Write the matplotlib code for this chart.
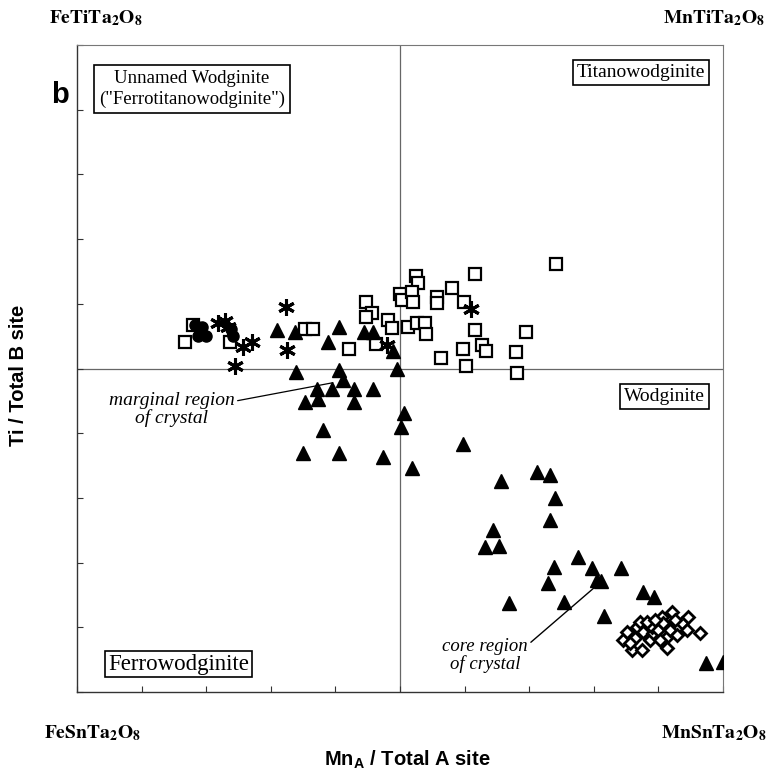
import matplotlib
matplotlib.use("Agg")
import matplotlib.pyplot as plt
import numpy as np

plt.rcParams['mathtext.fontset'] = 'custom'
plt.rcParams['mathtext.rm'] = 'Liberation Sans:bold'
plt.rcParams['mathtext.bf'] = 'Liberation Sans:bold'

# ---- data (Mn_A/total A , Ti/total B) ----
tri_x = [0.310, 0.337, 0.406, 0.389, 0.444, 0.458, 0.489, 0.339, 0.406, 0.495,
         0.412, 0.372, 0.395, 0.429, 0.458, 0.353, 0.373, 0.429, 0.381, 0.350,
         0.406, 0.474, 0.506, 0.502, 0.519, 0.598, 0.656, 0.712, 0.732, 0.740,
         0.732, 0.644, 0.632, 0.653, 0.776, 0.738, 0.797, 0.842, 0.729, 0.805,
         0.811, 0.669, 0.754, 0.876, 0.893, 0.816, 0.974, 1.000]
tri_y = [0.560, 0.556, 0.564, 0.541, 0.556, 0.556, 0.527, 0.495, 0.498, 0.499,
         0.482, 0.468, 0.468, 0.468, 0.468, 0.448, 0.453, 0.448, 0.405, 0.369,
         0.369, 0.363, 0.431, 0.410, 0.346, 0.383, 0.326, 0.340, 0.335, 0.300,
         0.266, 0.250, 0.224, 0.226, 0.209, 0.193, 0.192, 0.192, 0.168, 0.173,
         0.172, 0.138, 0.139, 0.155, 0.147, 0.117, 0.045, 0.046]

sq_x = [0.180, 0.167, 0.237, 0.353, 0.365, 0.421, 0.447, 0.457, 0.447, 0.463,
        0.481, 0.488, 0.500, 0.503, 0.525, 0.528, 0.519, 0.520, 0.512, 0.526,
        0.539, 0.540, 0.557, 0.557, 0.580, 0.599, 0.616, 0.616, 0.627, 0.633,
        0.598, 0.563, 0.602, 0.695, 0.680, 0.681, 0.741]
sq_y = [0.567, 0.541, 0.541, 0.561, 0.561, 0.530, 0.603, 0.586, 0.580, 0.538,
        0.575, 0.563, 0.615, 0.606, 0.643, 0.632, 0.618, 0.603, 0.564, 0.570,
        0.570, 0.553, 0.611, 0.601, 0.624, 0.603, 0.646, 0.560, 0.536, 0.527,
        0.530, 0.516, 0.504, 0.556, 0.525, 0.493, 0.662]

ast_x = [0.218, 0.229, 0.234, 0.257, 0.271, 0.245, 0.324, 0.325, 0.480, 0.610]
ast_y = [0.570, 0.573, 0.564, 0.533, 0.541, 0.504, 0.595, 0.529, 0.536, 0.592]

cir_x = [0.183, 0.193, 0.187, 0.200, 0.238, 0.241]
cir_y = [0.567, 0.564, 0.550, 0.550, 0.561, 0.550]

dia_x = [0.845, 0.859, 0.875, 0.864, 0.851, 0.867, 0.872, 0.876, 0.887, 0.892,
         0.890, 0.899, 0.906, 0.907, 0.913, 0.921, 0.918, 0.929, 0.913, 0.937,
         0.946, 0.944, 0.964, 0.882, 0.895, 0.856, 0.902, 0.926]
dia_y = [0.080, 0.065, 0.065, 0.083, 0.093, 0.100, 0.108, 0.093, 0.080, 0.091,
         0.100, 0.096, 0.116, 0.107, 0.085, 0.124, 0.096, 0.088, 0.068, 0.107,
         0.116, 0.096, 0.091, 0.108, 0.111, 0.076, 0.080, 0.111]

W, H = 772, 775
fig = plt.figure(figsize=(W / 100, H / 100), dpi=100)
ax = fig.add_axes([77 / W, 1 - 692 / H, (723 - 77) / W, (692 - 45) / H])
ax.set_xlim(0, 1)
ax.set_ylim(0, 1)

ticks = np.round(np.arange(0, 1.01, 0.1), 2)
ax.set_xticks(ticks)
ax.set_yticks(ticks)
ax.set_xticklabels([])
ax.set_yticklabels([])
ax.tick_params(direction='in', length=4, width=0.8, color='#333333')
for s in ['left', 'bottom']:
    ax.spines[s].set_linewidth(1.0)
    ax.spines[s].set_color('#333333')
for s in ['top', 'right']:
    ax.spines[s].set_linewidth(0.8)
    ax.spines[s].set_color('#777777')

ax.axvline(0.5, color='#666666', lw=0.9, zorder=1)
ax.axhline(0.5, color='#666666', lw=0.9, zorder=1)

ax.plot(sq_x, sq_y, ls='none', marker='s', ms=8.5, mfc='white', mec='black', mew=1.6, zorder=3)
ax.plot(cir_x, cir_y, ls='none', marker='o', ms=8, mfc='black', mec='black', zorder=4)
ax.plot(ast_x, ast_y, ls='none', marker=(6, 2, 0), ms=12, mec='black', mew=2.2, zorder=4)
ax.plot(tri_x, tri_y, ls='none', marker='^', ms=10, mfc='black', mec='black', zorder=5)
ax.plot(dia_x, dia_y, ls='none', marker='D', ms=6.5, mfc='white', mec='black', mew=2.0, zorder=5)

serif = 'Liberation Serif'
def box(pad):
    return dict(boxstyle='square,pad=%s' % pad, fc='white', ec='black', lw=1.2)

ax.text(0.178, 0.932, 'Unnamed Wodginite\n("Ferrotitanowodginite")', ha='center', va='center',
        fontsize=13.5, family=serif, bbox=box(0.25), linespacing=1.3, zorder=6)
ax.text(0.972, 0.958, 'Titanowodginite', ha='right', va='center',
        fontsize=14, family=serif, bbox=box(0.2), zorder=6)
ax.text(0.972, 0.457, 'Wodginite', ha='right', va='center',
        fontsize=14, family=serif, bbox=box(0.2), zorder=6)
ax.text(0.157, 0.043, 'Ferrowodginite', ha='center', va='center',
        fontsize=16.5, family=serif, bbox=box(0.12), zorder=6)

ax.annotate('marginal region\nof crystal', xy=(0.396, 0.478), xytext=(0.147, 0.436),
            ha='center', va='center', fontsize=14, family=serif, style='italic',
            linespacing=1.0,
            arrowprops=dict(arrowstyle='-', color='black', lw=0.9,
                            shrinkA=0, shrinkB=0, relpos=(1.0, 0.75)))
ax.annotate('core region\nof crystal', xy=(0.805, 0.165), xytext=(0.632, 0.057),
            ha='center', va='center', fontsize=13.5, family=serif, style='italic',
            linespacing=1.0,
            arrowprops=dict(arrowstyle='-', color='black', lw=1.0,
                            shrinkA=0, shrinkB=0, relpos=(1.0, 0.8)))

def ftext(px, py, s, **kw):
    fig.text(px / W, 1 - py / H, s, **kw)

fkw = dict(ha='center', va='center', fontsize=14, math_fontfamily='stix')
ftext(96, 18, r'$\mathbf{FeTiTa_2O_8}$', **fkw)
ftext(714, 18, r'$\mathbf{MnTiTa_2O_8}$', **fkw)
ftext(92, 733, r'$\mathbf{FeSnTa_2O_8}$', **fkw)
ftext(714, 733, r'$\mathbf{MnSnTa_2O_8}$', **fkw)

ftext(60, 95, 'b', ha='center', va='center', fontsize=21, fontweight='bold', family='Liberation Sans')
ftext(407, 760, r'Mn$_\mathrm{A}$ / Total A site', ha='center', va='center',
      fontsize=14.5, fontweight='bold', family='Liberation Sans')
ftext(19, 375, 'Ti / Total B site', ha='center', va='center', rotation=90,
      fontsize=14.5, fontweight='bold', family='Liberation Sans')

fig.savefig('out.png', dpi=100)
